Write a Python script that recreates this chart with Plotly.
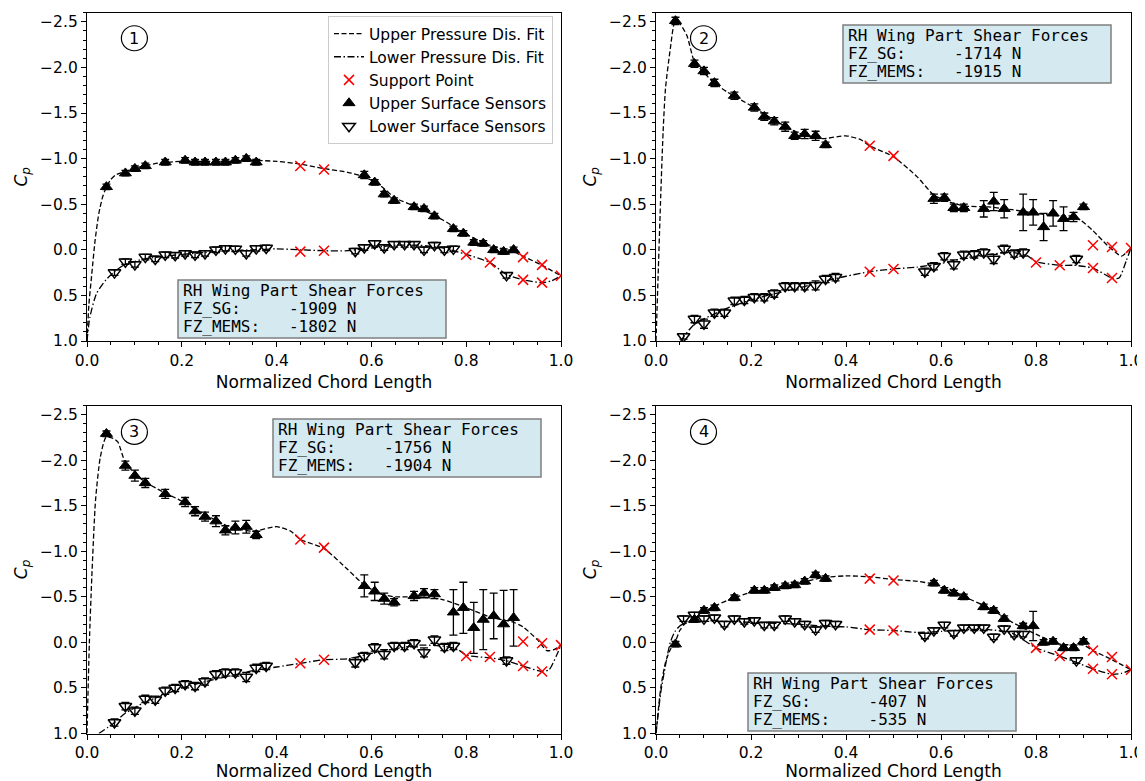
import plotly.graph_objects as go

OFF = 8                      # page body margin of the browser
W, H = 1145 - OFF, 781 - OFF

# ---------------- data ----------------
sensor_up_x = [0.041, 0.081, 0.101, 0.123, 0.165, 0.207, 0.228, 0.249, 0.272, 0.292, 0.313, 0.336, 0.357,
               0.585, 0.607, 0.627, 0.648, 0.690, 0.711, 0.733, 0.773, 0.794, 0.816, 0.836, 0.858, 0.879, 0.900]
sensor_lo_x = [0.058, 0.081, 0.101, 0.123, 0.144, 0.165, 0.186, 0.207, 0.228, 0.249, 0.272, 0.292, 0.313, 0.336,
               0.357, 0.378, 0.566, 0.585, 0.607, 0.627, 0.648, 0.670, 0.690, 0.711, 0.733, 0.754, 0.773, 0.885]
support_up_x = [0.45, 0.50, 0.92, 0.96, 1.00]
support_lo_x = [0.45, 0.50, 0.80, 0.85, 0.92, 0.96]

# panel 1
p1_up_cp = [-0.69, -0.84, -0.89, -0.92, -0.96, -0.98, -0.96, -0.96, -0.96, -0.96, -0.98, -1.00, -0.96,
            -0.82, -0.74, -0.61, -0.54, -0.47, -0.45, -0.37, -0.23, -0.18, -0.08, -0.07, 0.00, 0.02, 0.00]
p1_up_err = [0.03, 0.03, 0.03, 0.03, 0.03, 0.03, 0.03, 0.03, 0.03, 0.03, 0.03, 0.03, 0.03,
             0.04, 0.03, 0.03, 0.03, 0.03, 0.03, 0.03, 0.03, 0.03, 0.03, 0.03, 0.03, 0.03, 0.03]
p1_lo_cp = [0.25, 0.13, 0.16, 0.08, 0.10, 0.055, 0.06, 0.04, 0.055, 0.04, 0.00, -0.015, -0.01, 0.04,
            -0.015, -0.02, 0.015, -0.025, -0.07, -0.025, -0.06, -0.06, -0.06, 0.00, -0.05, 0.00, -0.01, 0.28]
p1_lo_err = [0.03, 0.03, 0.03, 0.03, 0.03, 0.03, 0.03, 0.03, 0.03, 0.03, 0.03, 0.03, 0.03, 0.03,
             0.03, 0.03, 0.03, 0.03, 0.03, 0.03, 0.03, 0.03, 0.03, 0.03, 0.03, 0.03, 0.03, 0.03]
p1_sup_up = [-0.92, -0.88, 0.08, 0.165, 0.285]
p1_sup_lo = [0.02, 0.01, 0.055, 0.14, 0.33, 0.36]
p1_fit_up_x = [0.0, 0.004, 0.01, 0.017, 0.025, 0.033, 0.041, 0.05, 0.06, 0.08, 0.10, 0.12, 0.15, 0.20, 0.25,
               0.30, 0.35, 0.40, 0.45, 0.50, 0.55, 0.585, 0.62, 0.65, 0.70, 0.75, 0.80, 0.85, 0.90, 0.92, 0.96, 1.0]
p1_fit_up = [1.0, 0.6, 0.27, -0.1, -0.4, -0.58, -0.69, -0.77, -0.82, -0.86, -0.89, -0.92, -0.95, -0.97, -0.97,
             -0.97, -0.98, -0.97, -0.94, -0.89, -0.85, -0.80, -0.70, -0.57, -0.46, -0.33, -0.17, -0.05, 0.02, 0.07, 0.17, 0.285]
p1_fit_lo_x = [0.0, 0.006, 0.02, 0.04, 0.06, 0.08, 0.10, 0.12, 0.15, 0.20, 0.25, 0.30, 0.35, 0.40, 0.45,
               0.50, 0.55, 0.60, 0.65, 0.70, 0.75, 0.80, 0.85, 0.885, 0.92, 0.96, 0.98, 1.0]
p1_fit_lo = [1.0, 0.74, 0.48, 0.33, 0.23, 0.16, 0.13, 0.10, 0.08, 0.05, 0.03, 0.01, 0.0, -0.01, 0.0,
             0.01, 0.01, -0.02, -0.05, -0.05, -0.02, 0.05, 0.14, 0.27, 0.33, 0.36, 0.34, 0.285]

# panel 2
p2_up_cp = [-2.51, -2.04, -1.96, -1.83, -1.69, -1.56, -1.46, -1.41, -1.35, -1.25, -1.27, -1.25, -1.15,
            -0.56, -0.57, -0.46, -0.46, -0.45, -0.53, -0.45, -0.41, -0.41, -0.25, -0.40, -0.34, -0.36, -0.47]
p2_up_err = [0.04, 0.04, 0.04, 0.04, 0.04, 0.04, 0.04, 0.04, 0.05, 0.04, 0.05, 0.05, 0.03,
             0.05, 0.04, 0.04, 0.04, 0.09, 0.10, 0.10, 0.20, 0.14, 0.15, 0.14, 0.13, 0.05, 0.03]
p2_lo_cp = [0.95, 0.76, 0.81, 0.69, 0.69, 0.56, 0.55, 0.52, 0.52, 0.48, 0.40, 0.40, 0.40, 0.39,
            0.32, 0.30, 0.24, 0.18, 0.07, 0.16, 0.055, 0.05, 0.03, 0.10, -0.01, 0.04, 0.03, 0.10]
p2_lo_err = [0.03, 0.04, 0.05, 0.04, 0.04, 0.04, 0.04, 0.04, 0.04, 0.04, 0.04, 0.04, 0.04, 0.05,
             0.04, 0.04, 0.04, 0.04, 0.04, 0.05, 0.04, 0.04, 0.04, 0.05, 0.04, 0.04, 0.04, 0.04]
p2_sup_up = [-1.14, -1.03, -0.05, -0.03, -0.02]
p2_sup_lo = [0.24, 0.21, 0.14, 0.17, 0.20, 0.31]
p2_fit_up_x = [0.0, 0.005, 0.01, 0.015, 0.02, 0.03, 0.04, 0.05, 0.065, 0.081, 0.10, 0.12, 0.15, 0.20, 0.25,
               0.30, 0.35, 0.40, 0.43, 0.45, 0.50, 0.55, 0.585, 0.62, 0.65, 0.70, 0.75, 0.80, 0.85, 0.88,
               0.895, 0.92, 0.95, 0.98, 0.99, 1.0]
p2_fit_up = [1.0, 0.2, -0.6, -1.3, -1.77, -2.2, -2.5, -2.48, -2.35, -2.06, -1.95, -1.84, -1.73, -1.58, -1.42,
             -1.28, -1.22, -1.25, -1.21, -1.14, -1.02, -0.80, -0.60, -0.52, -0.48, -0.47, -0.44, -0.40, -0.37, -0.37,
             -0.32, -0.21, -0.05, 0.07, 0.03, -0.02]
p2_fit_lo_x = [0.052, 0.06, 0.08, 0.10, 0.12, 0.15, 0.20, 0.25, 0.30, 0.35, 0.40, 0.45, 0.50, 0.55, 0.60,
               0.65, 0.70, 0.75, 0.78, 0.80, 0.85, 0.88, 0.92, 0.96, 0.975, 0.99, 1.0]
p2_fit_lo = [1.0, 0.94, 0.82, 0.76, 0.71, 0.64, 0.55, 0.48, 0.42, 0.35, 0.29, 0.24, 0.21, 0.19, 0.15,
             0.09, 0.05, 0.03, 0.06, 0.13, 0.17, 0.17, 0.20, 0.31, 0.31, 0.12, -0.02]

# panel 3
p3_up_cp = [-2.29, -1.94, -1.83, -1.75, -1.63, -1.54, -1.44, -1.38, -1.33, -1.23, -1.26, -1.27, -1.18,
            -0.62, -0.56, -0.48, -0.44, -0.51, -0.54, -0.53, -0.33, -0.38, -0.16, -0.25, -0.29, -0.20, -0.27]
p3_up_err = [0.03, 0.05, 0.06, 0.05, 0.05, 0.05, 0.05, 0.05, 0.06, 0.05, 0.07, 0.07, 0.04,
             0.12, 0.10, 0.06, 0.04, 0.05, 0.05, 0.05, 0.25, 0.28, 0.28, 0.33, 0.25, 0.37, 0.31]
p3_lo_cp = [0.88, 0.70, 0.75, 0.62, 0.63, 0.53, 0.50, 0.46, 0.48, 0.43, 0.35, 0.33, 0.33, 0.38,
            0.28, 0.26, 0.22, 0.15, 0.055, 0.13, 0.04, 0.04, 0.01, 0.11, -0.03, 0.05, 0.04, 0.20]
p3_lo_err = [0.04, 0.04, 0.04, 0.04, 0.04, 0.04, 0.04, 0.04, 0.04, 0.04, 0.04, 0.04, 0.04, 0.05,
             0.04, 0.04, 0.05, 0.04, 0.04, 0.05, 0.04, 0.04, 0.04, 0.05, 0.04, 0.04, 0.04, 0.04]
p3_sup_up = [-1.13, -1.04, -0.01, 0.01, 0.03]
p3_sup_lo = [0.23, 0.19, 0.15, 0.16, 0.26, 0.32]
p3_fit_up_x = [0.0, 0.005, 0.01, 0.018, 0.028, 0.04, 0.055, 0.065, 0.081, 0.10, 0.12, 0.15, 0.20, 0.25, 0.30,
               0.35, 0.40, 0.43, 0.45, 0.50, 0.55, 0.585, 0.62, 0.65, 0.70, 0.75, 0.80, 0.85, 0.90, 0.92,
               0.95, 0.97, 0.985, 1.0]
p3_fit_up = [1.0, 0.0, -0.7, -1.56, -2.03, -2.25, -2.24, -2.2, -1.97, -1.86, -1.77, -1.68, -1.55, -1.40, -1.27,
             -1.22, -1.27, -1.22, -1.13, -1.03, -0.80, -0.63, -0.53, -0.50, -0.50, -0.47, -0.38, -0.28, -0.22, -0.17,
             -0.03, 0.09, 0.08, 0.03]
p3_fit_lo_x = [0.025, 0.045, 0.06, 0.08, 0.10, 0.12, 0.15, 0.20, 0.25, 0.30, 0.35, 0.40, 0.45, 0.50, 0.55,
               0.60, 0.65, 0.70, 0.75, 0.78, 0.80, 0.85, 0.885, 0.92, 0.96, 0.975, 0.99, 1.0]
p3_fit_lo = [1.0, 0.93, 0.87, 0.78, 0.72, 0.66, 0.60, 0.50, 0.43, 0.37, 0.31, 0.27, 0.23, 0.19, 0.18,
             0.12, 0.07, 0.03, 0.04, 0.07, 0.14, 0.17, 0.20, 0.26, 0.32, 0.30, 0.15, 0.03]

# panel 4
p4_up_cp = [0.02, -0.25, -0.35, -0.38, -0.49, -0.57, -0.57, -0.60, -0.62, -0.63, -0.67, -0.74, -0.70,
            -0.65, -0.57, -0.54, -0.50, -0.39, -0.35, -0.26, -0.18, -0.18, 0.00, -0.01, 0.06, 0.06, -0.01]
p4_up_err = [0.03, 0.03, 0.03, 0.03, 0.03, 0.03, 0.03, 0.03, 0.03, 0.03, 0.03, 0.03, 0.03,
             0.03, 0.03, 0.03, 0.03, 0.03, 0.03, 0.03, 0.03, 0.16, 0.03, 0.03, 0.03, 0.03, 0.03]
p4_lo_cp = [-0.26, -0.30, -0.26, -0.27, -0.20, -0.26, -0.23, -0.24, -0.19, -0.19, -0.26, -0.23, -0.20, -0.14,
            -0.21, -0.20, -0.07, -0.13, -0.19, -0.10, -0.16, -0.16, -0.16, -0.06, -0.15, -0.09, -0.09, 0.20]
p4_lo_err = [0.03, 0.03, 0.03, 0.03, 0.03, 0.03, 0.03, 0.03, 0.03, 0.03, 0.03, 0.03, 0.03, 0.03,
             0.03, 0.03, 0.03, 0.03, 0.03, 0.03, 0.03, 0.03, 0.03, 0.03, 0.03, 0.03, 0.03, 0.03]
p4_sup_up = [-0.70, -0.68, 0.09, 0.16, 0.30]
p4_sup_lo = [-0.14, -0.13, 0.06, 0.15, 0.29, 0.35]
p4_fit_up_x = [0.0, 0.01, 0.02, 0.03, 0.04, 0.05, 0.06, 0.08, 0.10, 0.12, 0.15, 0.20, 0.25, 0.30, 0.35,
               0.40, 0.45, 0.50, 0.55, 0.585, 0.62, 0.65, 0.70, 0.75, 0.80, 0.85, 0.90, 0.92, 0.96, 1.0]
p4_fit_up = [1.0, 0.5, 0.22, 0.08, 0.0, -0.13, -0.2, -0.26, -0.33, -0.39, -0.46, -0.55, -0.60, -0.65, -0.71,
             -0.73, -0.72, -0.69, -0.67, -0.64, -0.58, -0.50, -0.38, -0.22, -0.09, 0.02, 0.03, 0.09, 0.19, 0.30]
p4_fit_lo_x = [0.0, 0.01, 0.02, 0.03, 0.04, 0.05, 0.06, 0.08, 0.10, 0.15, 0.20, 0.25, 0.30, 0.35, 0.40,
               0.45, 0.50, 0.55, 0.60, 0.65, 0.70, 0.75, 0.80, 0.85, 0.885, 0.92, 0.96, 0.98, 1.0]
p4_fit_lo = [1.0, 0.55, 0.25, 0.0, -0.12, -0.18, -0.21, -0.23, -0.23, -0.23, -0.22, -0.21, -0.20, -0.18, -0.17,
             -0.14, -0.13, -0.11, -0.12, -0.14, -0.14, -0.10, 0.06, 0.15, 0.22, 0.29, 0.35, 0.34, 0.30]

panel_labels = ["1", "2", "3", "4"]
box_title = "RH Wing Part Shear Forces"
fz_sg = [-1909, -1714, -1756, -407]
fz_mems = [-1802, -1915, -1904, -535]

ytick_vals = [-2.5, -2.0, -1.5, -1.0, -0.5, 0.0, 0.5, 1.0]
ytick_text = ["\u22122.5", "\u22122.0", "\u22121.5", "\u22121.0", "\u22120.5", "0.0", "0.5", "1.0"]
xtick_vals = [0.0, 0.2, 0.4, 0.6, 0.8, 1.0]
xtick_text = ["0.0", "0.2", "0.4", "0.6", "0.8", "1.0"]

panels = [
    dict(up=p1_up_cp, up_err=p1_up_err, lo=p1_lo_cp, lo_err=p1_lo_err, sup_up=p1_sup_up, sup_lo=p1_sup_lo,
         fux=p1_fit_up_x, fu=p1_fit_up, flx=p1_fit_lo_x, fl=p1_fit_lo),
    dict(up=p2_up_cp, up_err=p2_up_err, lo=p2_lo_cp, lo_err=p2_lo_err, sup_up=p2_sup_up, sup_lo=p2_sup_lo,
         fux=p2_fit_up_x, fu=p2_fit_up, flx=p2_fit_lo_x, fl=p2_fit_lo),
    dict(up=p3_up_cp, up_err=p3_up_err, lo=p3_lo_cp, lo_err=p3_lo_err, sup_up=p3_sup_up, sup_lo=p3_sup_lo,
         fux=p3_fit_up_x, fu=p3_fit_up, flx=p3_fit_lo_x, fl=p3_fit_lo),
    dict(up=p4_up_cp, up_err=p4_up_err, lo=p4_lo_cp, lo_err=p4_lo_err, sup_up=p4_sup_up, sup_lo=p4_sup_lo,
         fux=p4_fit_up_x, fu=p4_fit_up, flx=p4_fit_lo_x, fl=p4_fit_lo),
]

# ---------------- layout geometry (page pixels) ----------------
x_dom_px = [(87, 561), (656, 1131), (87, 561), (656, 1131)]
y_dom_px = [(12.7, 341), (12.7, 341), (405.5, 733.5), (405.5, 733.5)]
box_px = [(178, 280), (843, 25), (273, 419), (748, 673)]   # left, top
box_w, box_h = 268, 58
circle_pos = [(0.1, -2.32), (0.1, -2.32), (0.1, -2.31), (0.1, -2.31)]


def px(xp):
    return (xp - OFF) / W


def py(yp):
    return 1 - (yp - OFF) / H


FONT = "DejaVu Sans"
MONO = "DejaVu Sans Mono"

fig = go.Figure()

for i, p in enumerate(panels):
    xa = "x" if i == 0 else f"x{i+1}"
    ya = "y" if i == 0 else f"y{i+1}"
    leg = (i == 0)
    fig.add_trace(go.Scatter(x=p["fux"], y=p["fu"], mode="lines", xaxis=xa, yaxis=ya,
                             line=dict(color="black", width=1.3, dash="5px,2.5px", shape="spline", smoothing=0.6),
                             name="Upper Pressure Dis. Fit", showlegend=leg, legendrank=1))
    fig.add_trace(go.Scatter(x=p["flx"], y=p["fl"], mode="lines", xaxis=xa, yaxis=ya,
                             line=dict(color="black", width=1.3, dash="7px,2.5px,1.5px,2.5px", shape="spline", smoothing=0.6),
                             name="Lower Pressure Dis. Fit", showlegend=leg, legendrank=2))
    fig.add_trace(go.Scatter(x=support_up_x + support_lo_x, y=p["sup_up"] + p["sup_lo"], mode="markers",
                             xaxis=xa, yaxis=ya,
                             marker=dict(symbol="x-thin", size=10, line=dict(color="red", width=1.5), color="red"),
                             name="Support Point", showlegend=leg, legendrank=3))
    fig.add_trace(go.Scatter(x=sensor_up_x, y=p["up"], mode="markers", xaxis=xa, yaxis=ya,
                             marker=dict(symbol="triangle-up", size=10.5, color="black",
                                         line=dict(color="black", width=1)),
                             error_y=dict(type="data", array=p["up_err"], color="black", thickness=1.3, width=4),
                             name="Upper Surface Sensors", showlegend=leg, legendrank=4))
    fig.add_trace(go.Scatter(x=sensor_lo_x, y=p["lo"], mode="markers", xaxis=xa, yaxis=ya,
                             marker=dict(symbol="triangle-down-open", size=11, color="black", line=dict(width=1.5)),
                             error_y=dict(type="data", array=p["lo_err"], color="black", thickness=1.3, width=4),
                             name="Lower Surface Sensors", showlegend=leg, legendrank=5))

layout = dict(
    width=W, height=H, margin=dict(l=0, r=0, t=0, b=0, autoexpand=False),
    paper_bgcolor="white", plot_bgcolor="white",
    font=dict(family=FONT, size=15.5, color="black"),
    legend=dict(x=px(553), y=py(16), xanchor="right", yanchor="top",
                bgcolor="rgba(255,255,255,0.9)", bordercolor="#cccccc", borderwidth=1,
                font=dict(family=FONT, size=15.5), tracegroupgap=0, itemwidth=30),
    shapes=[], annotations=[],
)

for i in range(4):
    xk = "xaxis" if i == 0 else f"xaxis{i+1}"
    yk = "yaxis" if i == 0 else f"yaxis{i+1}"
    xa = "x" if i == 0 else f"x{i+1}"
    ya = "y" if i == 0 else f"y{i+1}"
    x0, x1 = x_dom_px[i]
    yt, yb = y_dom_px[i]
    layout[xk] = dict(domain=[px(x0), px(x1)], anchor=ya, range=[0, 1.0], automargin=False,
                      tickvals=xtick_vals, ticktext=xtick_text,
                      ticks="outside", ticklen=5, tickwidth=1, tickcolor="black",
                      minor=dict(dtick=0.05, ticks="outside", ticklen=3, tickwidth=0.8, tickcolor="black"),
                      showline=True, linecolor="black", linewidth=1.3, mirror=True,
                      showgrid=False, zeroline=False,
                      tickfont=dict(size=15.5),
                      title=dict(text="Normalized Chord Length", font=dict(size=17), standoff=7))
    layout[yk] = dict(domain=[py(yb), py(yt)], anchor=xa, range=[1.0, -2.6], automargin=False,
                      tickvals=ytick_vals, ticktext=ytick_text,
                      ticks="outside", ticklen=5, tickwidth=1, tickcolor="black",
                      minor=dict(dtick=0.1, ticks="outside", ticklen=3, tickwidth=0.8, tickcolor="black"),
                      showline=True, linecolor="black", linewidth=1.3, mirror=True,
                      showgrid=False, zeroline=False,
                      tickfont=dict(size=15.5),
                      title=dict(text="<i>C</i><sub><i>p</i></sub>", font=dict(size=17), standoff=8))

    # info box
    bl, bt = box_px[i]
    layout["shapes"].append(dict(type="rect", xref="paper", yref="paper",
                                 x0=px(bl), x1=px(bl + box_w), y0=py(bt + box_h), y1=py(bt),
                                 fillcolor="#d5e9f0", line=dict(color="#7f7f7f", width=1.5), layer="above"))
    lines = [box_title,
             "FZ_SG:".ljust(10) + f"{fz_sg[i]:>6}" + " N",
             "FZ_MEMS:".ljust(10) + f"{fz_mems[i]:>6}" + " N"]
    for k, t in enumerate(lines):
        layout["annotations"].append(dict(xref="paper", yref="paper", x=px(bl + 3), y=py(bt + 10 + 18.3 * k),
                                          xanchor="left", yanchor="middle", showarrow=False,
                                          text=t.replace(" ", "\u00a0"),
                                          font=dict(family=MONO, size=16, color="black")))
    # circled number
    cx, cy = circle_pos[i]
    layout["shapes"].append(dict(type="circle", xref=xa, yref=ya, xsizemode="pixel", ysizemode="pixel",
                                 xanchor=cx, yanchor=cy, x0=-13, x1=13, y0=-12.5, y1=12.5,
                                 line=dict(color="black", width=1.2), fillcolor="rgba(0,0,0,0)"))
    layout["annotations"].append(dict(xref=xa, yref=ya, x=cx, y=cy, text=panel_labels[i], showarrow=False,
                                      xanchor="center", yanchor="middle", font=dict(family=FONT, size=16)))

fig.update_layout(**layout)
fig.write_html("out.html")
